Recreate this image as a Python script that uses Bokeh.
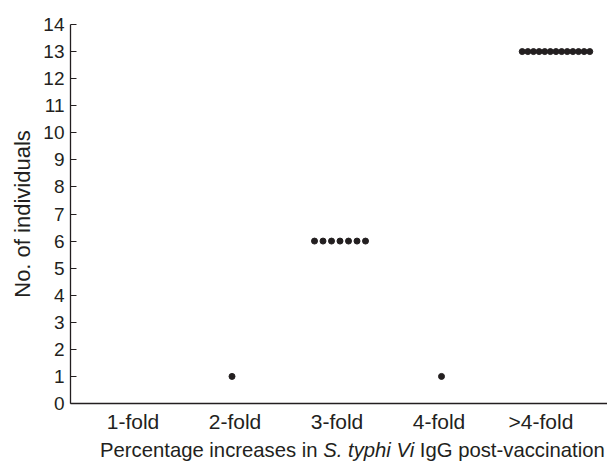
from bokeh.plotting import figure
from bokeh.models import FixedTicker, Range1d, ColumnDataSource, Div
from bokeh.layouts import column
from bokeh.embed import file_html
from bokeh.resources import INLINE

# ---- data ----
categories = ["1-fold", "2-fold", "3-fold", "4-fold", ">4-fold"]
cat_pos = [1, 2, 3, 4, 5]
level = [0, 1, 6, 1, 13]          # y value (no. of individuals) of each group
dots = [0, 1, 7, 1, 13]           # dots drawn for each group
y_ticks = list(range(0, 15))
x_title_parts = ["Percentage increases in ", "S. typhi Vi", " IgG post-vaccination"]

# ---- layout / style ----
X0, X1 = 0.387, 5.652
FRAME_W = 537.0
PX_PER_UNIT = FRAME_W / (X1 - X0)
dot_step_px = [0, 0, 8.5, 0, 5.63]
dot_shift_px = [0, -3, 3, 2.5, 15]

xs, ys = [], []
for pos, lv, n, step, shift in zip(cat_pos, level, dots, dot_step_px, dot_shift_px):
    for k in range(n):
        off = (k - (n - 1) / 2.0) * step + shift
        xs.append(pos + off / PX_PER_UNIT)
        ys.append(lv)
src = ColumnDataSource(dict(x=xs, y=ys))

INK = "#231f20"
FONT = "Liberation Sans"

p = figure(width=607, height=438, output_backend="svg", toolbar_location=None,
           x_range=Range1d(X0, X1), y_range=Range1d(0, 14),
           min_border_left=70, min_border_right=0, min_border_top=24, min_border_bottom=35)
p.outline_line_color = None
p.background_fill_color = "white"
p.border_fill_color = "white"
p.xgrid.visible = False
p.ygrid.visible = False
p.margin = (0, 0, 0, 0)

p.scatter("x", "y", source=src, size=6, color=INK, line_color=INK)

# x axis
xa = p.xaxis[0]
xa.ticker = FixedTicker(ticks=cat_pos)
xa.major_label_overrides = {pos: lab for pos, lab in zip(cat_pos, categories)}
xa.major_tick_out = 0
xa.major_tick_in = 0
xa.minor_tick_out = 0
xa.minor_tick_in = 0
xa.major_label_standoff = 6
xa.major_label_text_font = FONT
xa.major_label_text_font_size = "21px"
xa.major_label_text_color = INK
xa.axis_line_color = INK
xa.axis_line_width = 1.3

# y axis
ya = p.yaxis[0]
ya.ticker = FixedTicker(ticks=y_ticks)
ya.major_tick_out = 0
ya.major_tick_in = 6
ya.minor_tick_out = 0
ya.minor_tick_in = 0
ya.major_tick_line_color = INK
ya.major_label_standoff = 6
ya.major_label_text_font = FONT
ya.major_label_text_font_size = "19px"
ya.major_label_text_color = INK
ya.axis_line_color = INK
ya.axis_line_width = 1.3
ya.axis_label = "No. of individuals"
ya.axis_label_text_font = FONT
ya.axis_label_text_font_size = "22px"
ya.axis_label_text_font_style = "normal"
ya.axis_label_text_color = INK
ya.axis_label_standoff = 5

# x axis title (mixed upright / italic) as an HTML line below the figure
title_html = f"{x_title_parts[0]}<i>{x_title_parts[1]}</i>{x_title_parts[2]}"
div = Div(text=title_html, width=607, height=26, margin=(0, 0, 0, 0),
          styles={"font-family": FONT, "font-size": "20.3px", "color": INK,
                  "line-height": "24px", "padding-left": "100px", "white-space": "pre",
                  "box-sizing": "border-box"})

layout = column(p, div, spacing=0, margin=(0, 0, 0, 0))

open("out.html", "w").write(file_html(layout, INLINE))
